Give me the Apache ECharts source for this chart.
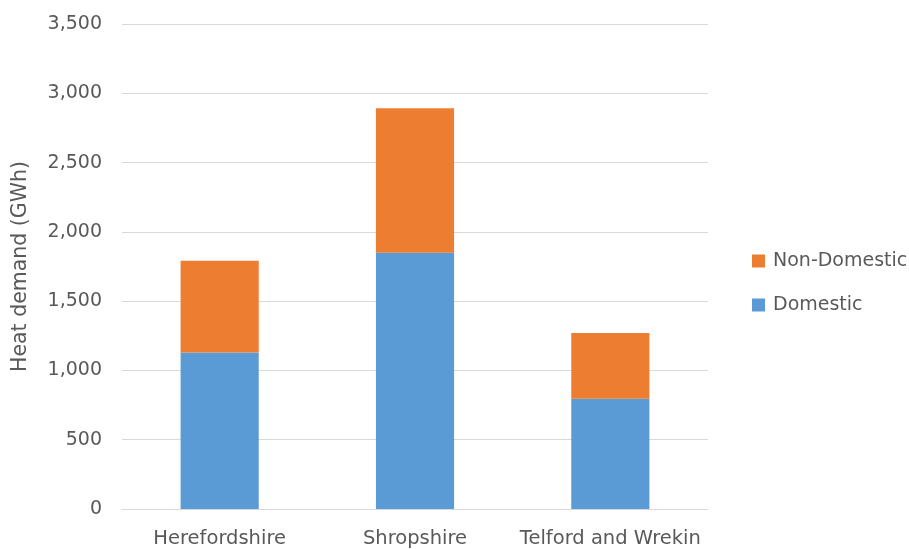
<!DOCTYPE html>
<html>
<head>
<meta charset="utf-8">
<script src="https://cdn.jsdelivr.net/npm/echarts@6/dist/echarts.min.js"></script>
<style>html,body{margin:0;padding:0;background:#fff}#c{width:909px;height:549px}</style>
</head>
<body>
<div id="c"></div>
<script>
const categories = ["Herefordshire", "Shropshire", "Telford and Wrekin"];
const domestic = [1129, 1850, 796];
const nonDomestic = [662, 1042, 474];
const seriesNames = ["Domestic", "Non-Domestic"];
const yTitle = "Heat demand (GWh)";

const FONT = "DejaVu Sans";
const GREY = "#595959";
const chart = echarts.init(document.getElementById('c'), null, {renderer: 'canvas'});
chart.setOption({
  animation: false,
  textStyle: {fontFamily: FONT},
  grid: {left: 122, right: 201, top: 24, bottom: 40},
  legend: {
    orient: 'vertical', left: 747, top: 246,
    data: [seriesNames[1], seriesNames[0]],
    itemWidth: 13, itemHeight: 13, itemGap: 24,
    icon: 'rect',
    textStyle: {color: GREY, fontSize: 19, fontFamily: FONT, lineHeight: 20, padding: [0, 0, 0, 3]}
  },
  xAxis: {
    type: 'category', data: categories,
    axisLine: {lineStyle: {color: '#d9d9d9', width: 1}},
    axisTick: {show: false},
    axisLabel: {color: GREY, fontSize: 19.5, margin: 20, lineHeight: 20, fontFamily: FONT,
      interval: 0, hideOverlap: false}
  },
  yAxis: {
    type: 'value', min: 0, max: 3500, interval: 500,
    name: yTitle, nameLocation: 'middle', nameGap: 91, nameRotate: 90,
    nameTextStyle: {color: GREY, fontSize: 20.5, fontFamily: FONT},
    axisLine: {show: false}, axisTick: {show: false},
    splitLine: {lineStyle: {color: '#d9d9d9', width: 1}},
    axisLabel: {color: GREY, fontSize: 19, margin: 20, fontFamily: FONT,
      formatter: v => v.toLocaleString('en-US')}
  },
  series: [
    {name: seriesNames[0], type: 'bar', stack: 'a', data: domestic, barWidth: '40%',
     itemStyle: {color: '#5b9bd5'}},
    {name: seriesNames[1], type: 'bar', stack: 'a', data: nonDomestic, barWidth: '40%',
     itemStyle: {color: '#ed7d31'}}
  ]
});
</script>
</body>
</html>
